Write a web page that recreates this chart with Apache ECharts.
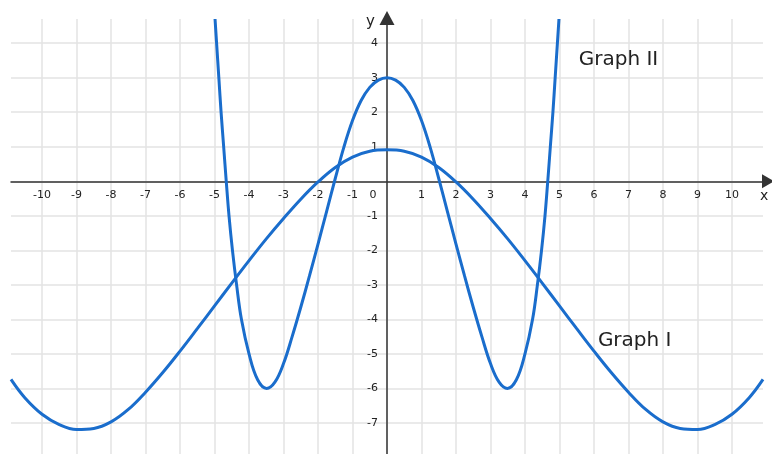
<!DOCTYPE html>
<html>
<head>
<meta charset="utf-8">
<title>Graph I and Graph II</title>
<script src="https://cdn.jsdelivr.net/npm/echarts@6/dist/echarts.min.js"></script>
<style>
  html, body { margin: 0; padding: 0; background: #ffffff; }
  #chart { width: 772px; height: 454px; }
</style>
</head>
<body>
<div id="chart"></div>
<script>
// Axis ticks (integer grid)
var xTicks = [-10, -9, -8, -7, -6, -5, -4, -3, -2, -1, 0, 1, 2, 3, 4, 5, 6, 7, 8, 9, 10];
var yTicks = [-7, -6, -5, -4, -3, -2, -1, 0, 1, 2, 3, 4];

// Graph I: broad wave
var graph1X = [-10.9, -10.5, -10, -9.5, -9, -8.5, -8, -7.5, -7, -6.5, -6, -5.5, -5, -4.5, -4, -3.5, -3, -2.5, -2, -1.5, -1, -0.5, 0,
               0.5, 1, 1.5, 2, 2.5, 3, 3.5, 4, 4.5, 5, 5.5, 6, 6.5, 7, 7.5, 8, 8.5, 9, 9.5, 10, 10.5, 10.9];
var graph1Y = [-5.74, -6.27, -6.75, -7.05, -7.19, -7.16, -6.97, -6.61, -6.11, -5.54, -4.92, -4.27, -3.61, -2.95, -2.30, -1.67, -1.08, -0.52, -0.02, 0.40, 0.70, 0.87, 0.91,
               0.87, 0.70, 0.40, -0.02, -0.52, -1.08, -1.67, -2.30, -2.95, -3.61, -4.27, -4.92, -5.54, -6.11, -6.61, -6.97, -7.16, -7.19, -7.05, -6.75, -6.27, -5.74];

// Graph II: steep double well
var graph2X = [-4.985, -4.94, -4.875, -4.81, -4.735, -4.66, -4.58, -4.48, -4.36, -4.22, -4.0, -3.75, -3.49, -3.25, -3.0, -2.75, -2.5, -2.25, -2.0, -1.75, -1.5, -1.25, -1.0, -0.75, -0.5, -0.25, 0,
               0.25, 0.5, 0.75, 1.0, 1.25, 1.5, 1.75, 2.0, 2.25, 2.5, 2.75, 3.0, 3.25, 3.49, 3.75, 4.0, 4.22, 4.36, 4.48, 4.58, 4.66, 4.735, 4.81, 4.875, 4.94, 4.985];
var graph2Y = [4.7, 4, 3, 2, 1, 0, -1, -2, -3, -4, -5, -5.75, -6.0, -5.82, -5.28, -4.5, -3.65, -2.75, -1.82, -0.87, 0.08, 0.99, 1.76, 2.34, 2.72, 2.93, 3,
               2.93, 2.72, 2.34, 1.76, 0.99, 0.08, -0.87, -1.82, -2.75, -3.65, -4.5, -5.28, -5.82, -6.0, -5.75, -5, -4, -3, -2, -1, 0, 1, 2, 3, 4, 4.7];

// Curve captions, placed in data coordinates
var caption1 = { text: 'Graph I', x: 7.18, y: -4.62 };
var caption2 = { text: 'Graph II', x: 6.71, y: 3.52 };

function pairs(xs, ys) {
  return xs.map(function (x, i) { return [x, ys[i]]; });
}

var FONT = '"DejaVu Sans", Verdana, sans-serif';
var CURVE = '#1a6dcc';
var AXIS = '#333333';
var GRID = '#e3e3e3';
var GRID_BOX = { left: 11, right: 9, top: 19, bottom: 0 };

var chart = echarts.init(document.getElementById('chart'), null, { renderer: 'canvas' });

chart.setOption({
  animation: false,
  backgroundColor: '#ffffff',
  grid: {
    left: GRID_BOX.left, right: GRID_BOX.right, top: GRID_BOX.top, bottom: GRID_BOX.bottom,
    containLabel: false,
    outerBoundsMode: 'none'
  },
  xAxis: {
    type: 'value',
    min: -10.9,
    max: 10.9,
    position: 'bottom',
    name: 'x',
    nameLocation: 'end',
    nameGap: -3,
    nameTextStyle: { fontFamily: FONT, fontSize: 14, color: '#222', align: 'left', verticalAlign: 'top', padding: [8, 0, 0, 0] },
    axisLine: {
      onZero: false,
      symbol: ['none', 'triangle'],
      symbolSize: [14, 12],
      symbolOffset: [0, 5],
      lineStyle: { color: AXIS, width: 1.5 }
    },
    axisTick: { show: false, customValues: xTicks },
    axisLabel: {
      customValues: xTicks,
      margin: 8,
      fontFamily: FONT,
      fontSize: 11,
      color: '#222',
      formatter: function (v) { return v === 0 ? '{o|0}' : String(v); },
      rich: { o: { fontFamily: FONT, fontSize: 11, color: '#222', padding: [0, 28, 0, 0] } }
    },
    splitLine: { show: true, lineStyle: { color: GRID, width: 1.5 } }
  },
  yAxis: {
    type: 'value',
    min: -7.9,
    max: 4.7,
    position: 'left',
    name: 'y',
    nameLocation: 'end',
    nameGap: -3,
    nameTextStyle: { fontFamily: FONT, fontSize: 15, color: '#222', align: 'right', verticalAlign: 'middle', padding: [0, 12, 0, 0] },
    axisLine: {
      onZero: false,
      symbol: ['none', 'triangle'],
      symbolSize: [15, 14],
      symbolOffset: [0, 1],
      lineStyle: { color: AXIS, width: 1.5 }
    },
    axisTick: { show: false, customValues: yTicks },
    axisLabel: {
      customValues: yTicks,
      margin: 9,
      fontFamily: FONT,
      fontSize: 11,
      color: '#222',
      formatter: function (v) { return v === 0 ? '' : String(v); }
    },
    splitLine: { show: true, lineStyle: { color: GRID, width: 1.5 } }
  },
  series: [
    {
      name: 'Graph I',
      type: 'line',
      data: pairs(graph1X, graph1Y),
      smooth: 0.4,
      showSymbol: false,
      clip: true,
      lineStyle: { color: CURVE, width: 3 },
      markPoint: {
        symbol: 'circle',
        symbolSize: 0,
        label: { show: true, position: 'inside', formatter: caption1.text, fontFamily: FONT, fontSize: 20, color: '#222' },
        data: [{ coord: [caption1.x, caption1.y] }]
      }
    },
    {
      name: 'Graph II',
      type: 'line',
      data: pairs(graph2X, graph2Y),
      smooth: 0.4,
      showSymbol: false,
      clip: true,
      lineStyle: { color: CURVE, width: 3 },
      markPoint: {
        symbol: 'circle',
        symbolSize: 0,
        label: { show: true, position: 'inside', formatter: caption2.text, fontFamily: FONT, fontSize: 20, color: '#222' },
        data: [{ coord: [caption2.x, caption2.y] }]
      }
    }
  ]
});

// Move both axis lines (with their labels) onto the origin, using the chart's own scales.
var origin = chart.convertToPixel({ gridIndex: 0 }, [0, 0]);
var rect = chart.getModel().getComponent('grid', 0).coordinateSystem.getRect();
chart.setOption({
  xAxis: { offset: -(rect.y + rect.height - origin[1]) },
  yAxis: { offset: -(origin[0] - rect.x) }
});
</script>
</body>
</html>
